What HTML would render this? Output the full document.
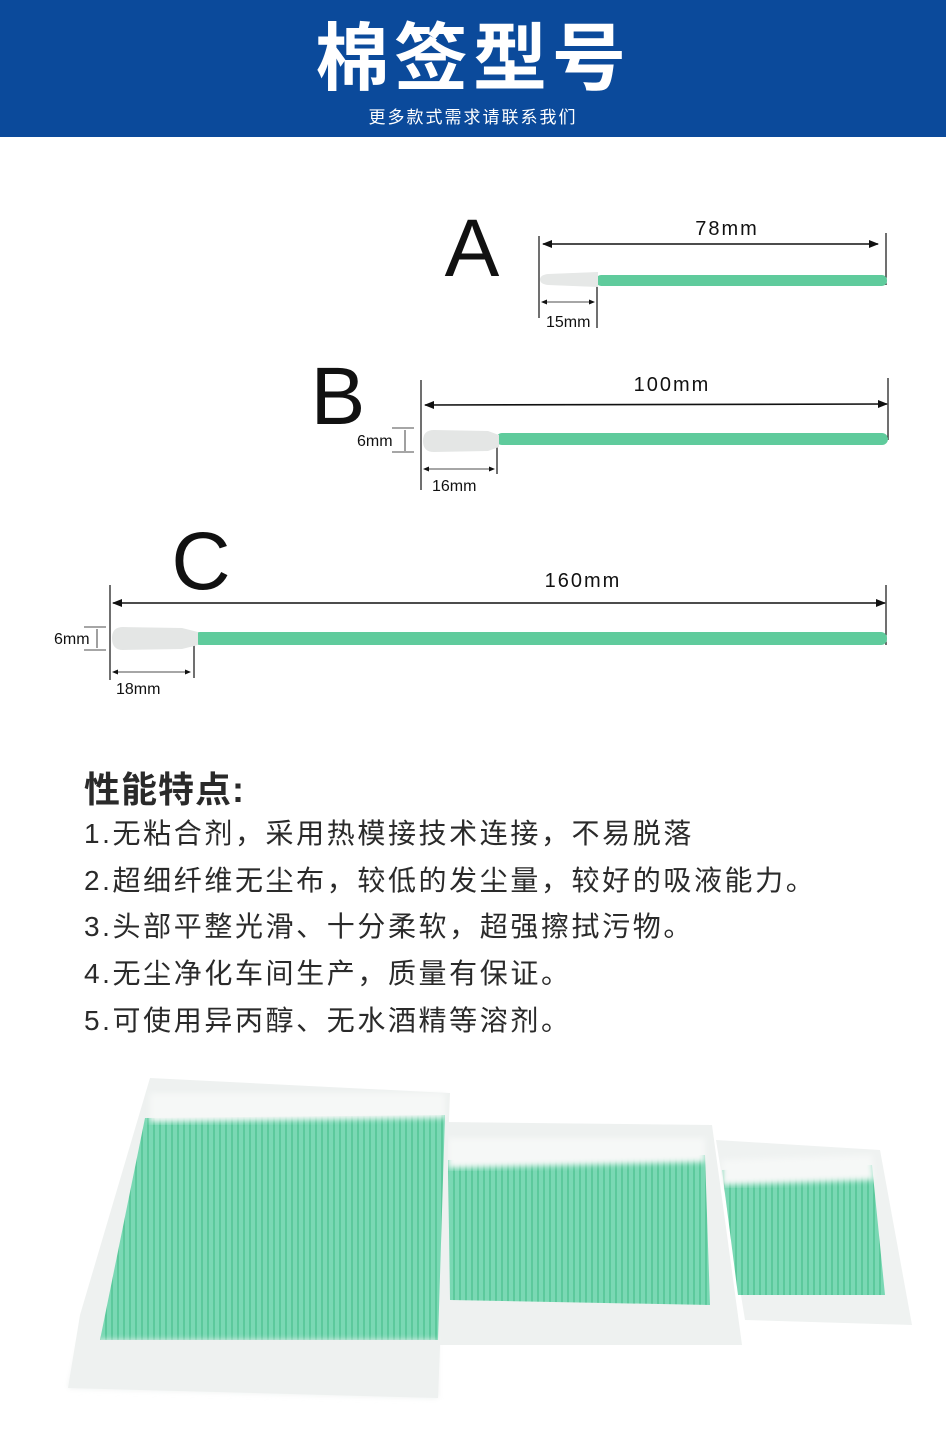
<!DOCTYPE html>
<html><head><meta charset="utf-8"><style>
body{margin:0;width:946px;height:1441px;background:#fff;position:relative;overflow:hidden;font-family:"Liberation Sans","Noto Sans CJK SC",sans-serif}
.hd{position:absolute;left:0;top:0;width:946px;height:137px;background:#0b4a9b}
.t{position:absolute;white-space:nowrap}
.f{position:absolute;left:84px;font-size:28px;color:#2a2a2a;white-space:nowrap;letter-spacing:2.6px}
</style></head><body>
<div class="hd"></div>
<div class="t" style="left:0;width:946px;text-align:center;top:16px;font-size:74px;font-weight:bold;color:#fff;letter-spacing:5px;line-height:86px">棉签型号</div>
<div class="t" style="left:0;width:946px;text-align:center;top:107px;font-size:17px;color:#fff;line-height:22px;letter-spacing:2px">更多款式需求请联系我们</div>

<svg style="position:absolute;left:0;top:0" width="946" height="720" font-family="Liberation Sans, sans-serif">
<defs>
<marker id="a" markerWidth="10" markerHeight="8" refX="9" refY="4" orient="auto-start-reverse" markerUnits="userSpaceOnUse"><path d="M0,0 L10,4 L0,8 z" fill="#111"/></marker>
<marker id="s" markerWidth="6" markerHeight="5" refX="5" refY="2.5" orient="auto-start-reverse" markerUnits="userSpaceOnUse"><path d="M0,0 L6,2.5 L0,5 z" fill="#111"/></marker>
</defs>
<g stroke="#111" stroke-width="1.2">
<line x1="539" y1="236" x2="539" y2="318"/><line x1="886" y1="233" x2="886" y2="285"/>
<line x1="543" y1="244" x2="878" y2="244" marker-start="url(#a)" marker-end="url(#a)" stroke-width="1.6"/>
<line x1="597" y1="284" x2="597" y2="328"/>
<line x1="542" y1="302" x2="594" y2="302" marker-start="url(#s)" marker-end="url(#s)" stroke-width="0.8"/>
<line x1="421" y1="380" x2="421" y2="490"/><line x1="888" y1="378" x2="888" y2="440"/>
<line x1="425" y1="405" x2="887" y2="404" marker-start="url(#a)" marker-end="url(#a)" stroke-width="1.6"/>
<line x1="497" y1="445" x2="497" y2="474"/>
<line x1="424" y1="469" x2="494" y2="469" marker-start="url(#s)" marker-end="url(#s)" stroke-width="0.8"/>
<line x1="405" y1="430" x2="405" y2="451" stroke-width="0.8"/><line x1="392" y1="428" x2="414" y2="428" stroke-width="0.8"/><line x1="392" y1="452" x2="414" y2="452" stroke-width="0.8"/>
<line x1="110" y1="585" x2="110" y2="680"/><line x1="886" y1="585" x2="886" y2="645"/>
<line x1="113" y1="603" x2="885" y2="603" marker-start="url(#a)" marker-end="url(#a)" stroke-width="1.6"/>
<line x1="194" y1="645" x2="194" y2="678"/>
<line x1="113" y1="672" x2="190" y2="672" marker-start="url(#s)" marker-end="url(#s)" stroke-width="0.8"/>
<line x1="97" y1="629" x2="97" y2="648" stroke-width="0.8"/><line x1="84" y1="627" x2="106" y2="627" stroke-width="0.8"/><line x1="84" y1="650" x2="106" y2="650" stroke-width="0.8"/>
</g>
<rect x="596" y="275" width="291" height="11" rx="5" fill="#5fcb9c"/>
<path d="M598,272 L598,287 L548,285 Q540,284 540,279.5 Q540,275 548,274 Z" fill="#e6e8e7"/>
<rect x="496" y="433" width="392" height="12" rx="6" fill="#5fcb9c"/>
<path d="M423,441 Q423,430 434,430 L488,431 L499,435 L499,447 L488,451 L434,452 Q423,452 423,441Z" fill="#e4e6e5"/>
<rect x="194" y="632" width="693" height="13" rx="6" fill="#5fcb9c"/>
<path d="M112,638 Q112,627 123,627 L182,628 L198,632 L198,645 L182,649 L123,650 Q112,650 112,638Z" fill="#e4e6e5"/>
<g fill="#111">
<text x="472" y="276" font-size="82" text-anchor="middle">A</text>
<text x="338" y="424" font-size="82" text-anchor="middle">B</text>
<text x="201" y="589" font-size="82" text-anchor="middle">C</text>
<text x="727" y="235" font-size="20" text-anchor="middle" letter-spacing="2">78mm</text>
<text x="672" y="391" font-size="20" text-anchor="middle" letter-spacing="2">100mm</text>
<text x="583" y="587" font-size="20" text-anchor="middle" letter-spacing="2">160mm</text>
<text x="546" y="327" font-size="16">15mm</text>
<text x="432" y="491" font-size="16">16mm</text>
<text x="116" y="694" font-size="16">18mm</text>
<text x="357" y="446" font-size="16">6mm</text>
<text x="54" y="644" font-size="16">6mm</text>
</g>
</svg>

<div class="t" style="left:84px;top:761px;font-size:36px;font-weight:bold;color:#2a2a2a;letter-spacing:1px">性能特点:</div>
<div class="f" style="top:812px">1.无粘合剂，采用热模接技术连接，不易脱落</div>
<div class="f" style="top:859px">2.超细纤维无尘布，较低的发尘量，较好的吸液能力。</div>
<div class="f" style="top:905px">3.头部平整光滑、十分柔软，超强擦拭污物。</div>
<div class="f" style="top:952px">4.无尘净化车间生产，质量有保证。</div>
<div class="f" style="top:999px">5.可使用异丙醇、无水酒精等溶剂。</div>

<svg style="position:absolute;left:0;top:0" width="946" height="1441">
<defs>
<pattern id="g" width="6" height="10" patternUnits="userSpaceOnUse"><rect width="6" height="10" fill="#7ad8b4"/><rect x="3" width="2" height="10" fill="#5cc99c"/></pattern>
<filter id="bl"><feGaussianBlur stdDeviation="3"/></filter>
</defs>
<path d="M716,1140 L880,1150 L912,1325 L745,1320 Z" fill="#eff2f1"/>
<path d="M722,1170 L872,1165 L885,1295 L738,1295 Z" fill="url(#g)"/>
<path d="M722,1160 L872,1155 L874,1180 L722,1185 Z" fill="#f6f8f7" filter="url(#bl)"/>
<path d="M445,1122 L712,1125 L742,1345 L440,1345 Z" fill="#eef1f0"/>
<path d="M448,1160 L705,1155 L710,1305 L450,1300 Z" fill="url(#g)"/>
<path d="M448,1138 L705,1138 L705,1162 L448,1168 Z" fill="#f6f8f7" filter="url(#bl)"/>
<path d="M150,1078 L450,1093 L438,1398 L68,1388 L80,1315 Z" fill="#eef1f0"/>
<path d="M145,1118 L445,1115 L438,1340 L100,1340 Z" fill="url(#g)"/>
<path d="M150,1093 L445,1093 L445,1118 L150,1122 Z" fill="#f6f8f7" filter="url(#bl)"/>
<path d="M80,1340 L438,1340 L438,1398 L68,1388 Z" fill="#eef1f0" filter="url(#bl)"/>
</svg>
</body></html>
